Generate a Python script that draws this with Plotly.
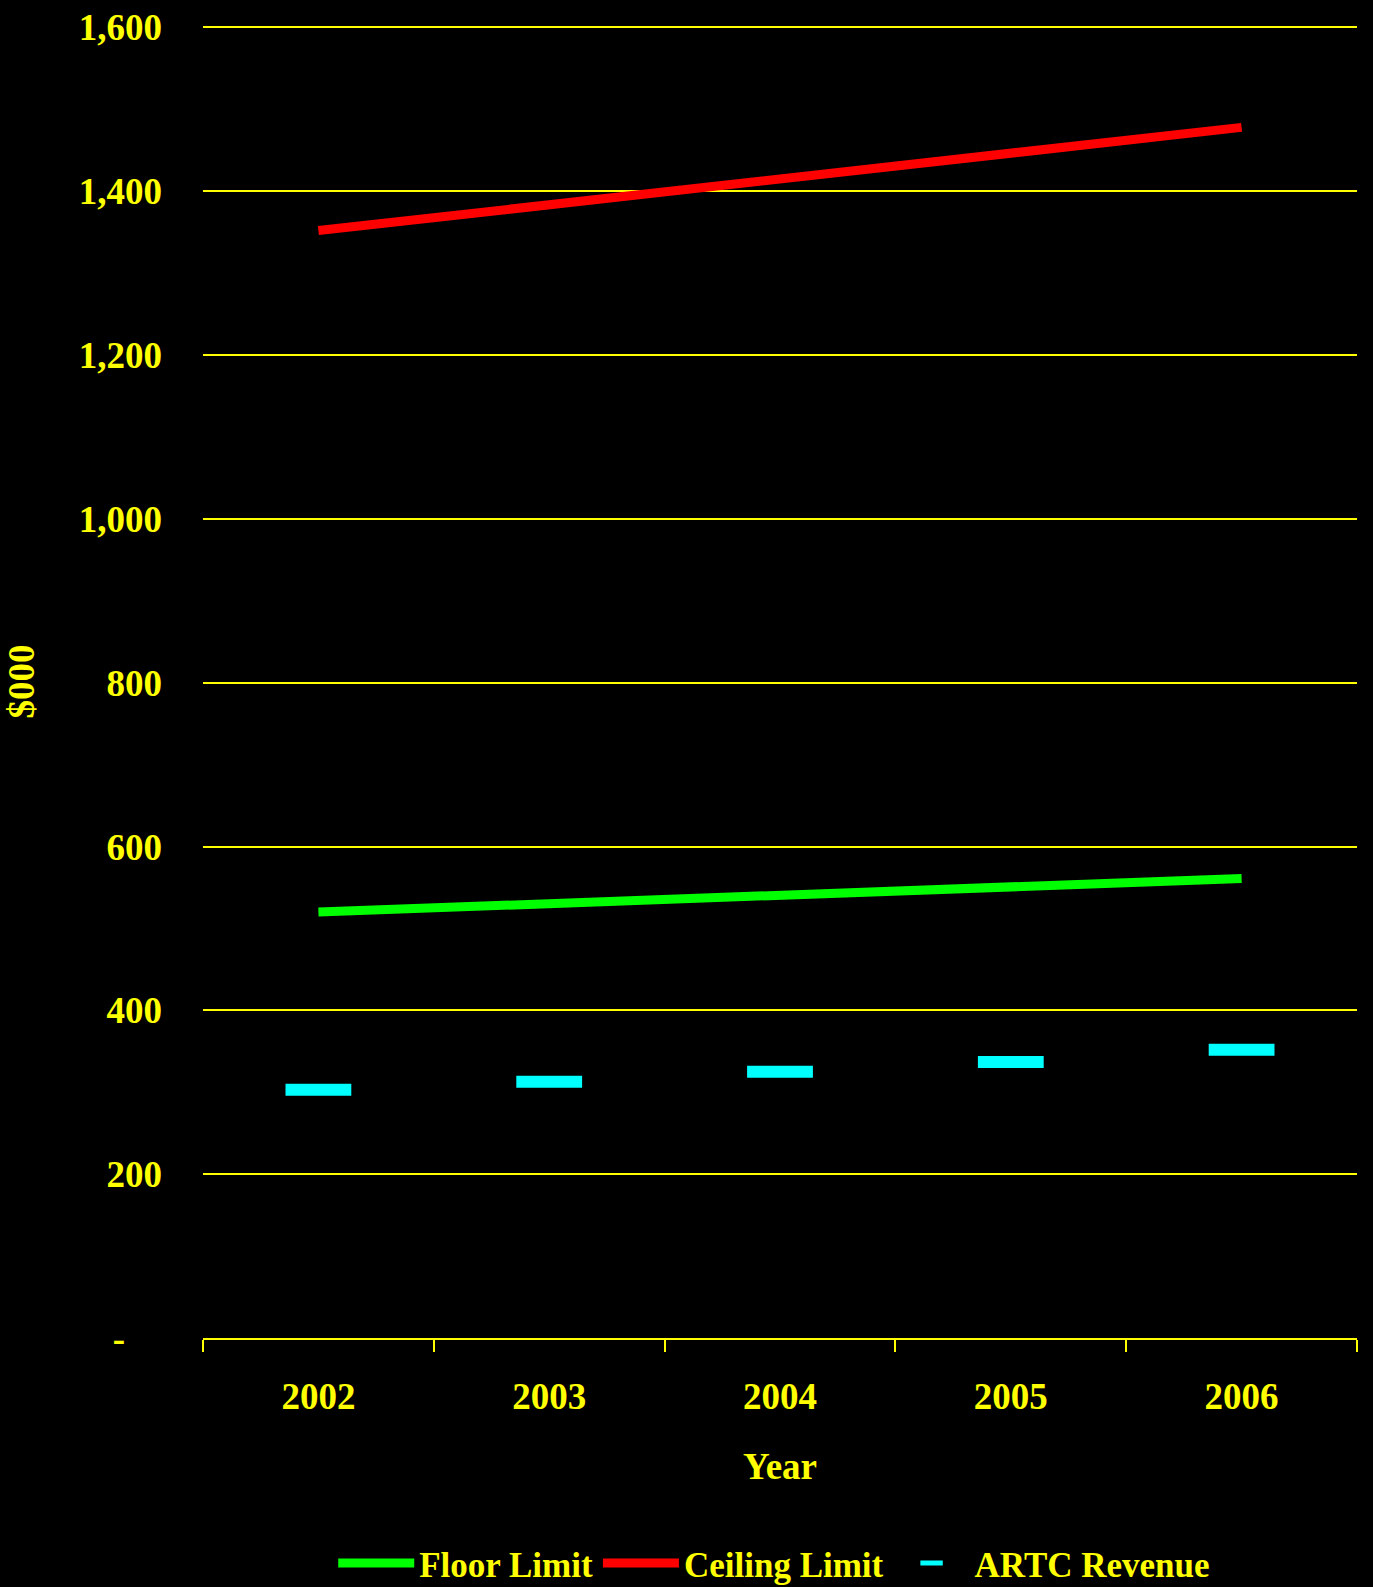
import plotly.graph_objects as go

years = ["2002", "2003", "2004", "2005", "2006"]
floor_limit = [520, 530, 541, 551, 561]
ceiling_limit = [1352, 1383, 1414, 1446, 1478]
artc_revenue = [303, 313, 325, 337, 352]

y_tick_vals = [0, 200, 400, 600, 800, 1000, 1200, 1400, 1600]
y_tick_text = ["-\u00a0\u00a0\u00a0\u00a0", "200", "400", "600", "800",
               "1,000", "1,200", "1,400", "1,600"]

YELLOW = "#FFFF00"
FONT = "Liberation Serif"

fig = go.Figure()

fig.add_trace(go.Scatter(
    x=years, y=floor_limit, name="Floor Limit", mode="lines",
    line=dict(color="#00FF00", width=9),
))
fig.add_trace(go.Scatter(
    x=years, y=ceiling_limit, name="Ceiling Limit", mode="lines",
    line=dict(color="#FF0000", width=9),
))
fig.add_trace(go.Scatter(
    x=years, y=artc_revenue, name="ARTC Revenue", mode="markers",
    marker=dict(symbol="line-ew", size=47,
                line=dict(color="#00FFFF", width=12)),
))

fig.update_layout(
    width=1373, height=1587,
    paper_bgcolor="black", plot_bgcolor="black",
    margin=dict(l=203, r=16, t=25, b=249, autoexpand=False),
    font=dict(family=FONT, color=YELLOW, size=36, weight="bold"),
    showlegend=True,
    legend=dict(
        orientation="h", x=0.495, xanchor="center",
        yref="container", y=0.015, yanchor="middle",
        font=dict(family=FONT, color=YELLOW, size=35, weight="bold"),
        itemwidth=76, tracegroupgap=0, bgcolor="rgba(0,0,0,0)",
    ),
    xaxis=dict(
        type="category", range=[-0.5, 4.5], automargin=False,
        showgrid=False, zeroline=False,
        showline=True, linecolor=YELLOW, linewidth=2,
        ticks="outside", tickson="boundaries", ticklen=12,
        tickcolor=YELLOW, tickwidth=2,
        ticklabelstandoff=25,
        tickfont=dict(family=FONT, color=YELLOW, size=37, weight="bold"),
        title=dict(text="Year", standoff=37,
                   font=dict(family=FONT, color=YELLOW, size=37, weight="bold")),
    ),
    yaxis=dict(
        range=[0, 1603], tickvals=y_tick_vals, ticktext=y_tick_text,
        automargin=False,
        showgrid=True, gridcolor=YELLOW, gridwidth=2,
        zeroline=False, showline=False,
        ticks="", ticklabelstandoff=40,
        tickfont=dict(family=FONT, color=YELLOW, size=37, weight="bold"),
        title=dict(text="$000", standoff=32,
                   font=dict(family=FONT, color=YELLOW, size=37, weight="bold")),
    ),
)

fig.write_html("out.html")
